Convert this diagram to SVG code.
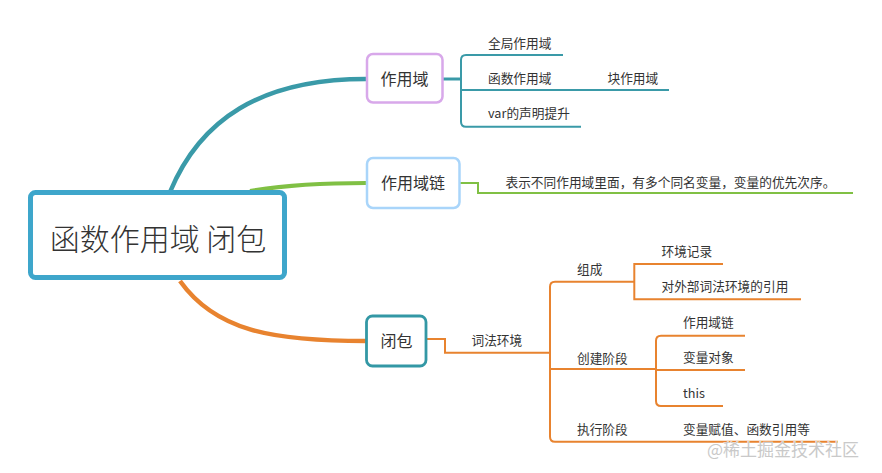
<svg xmlns="http://www.w3.org/2000/svg" width="882" height="473" viewBox="0 0 882 473">
<style>
text{font-family:"Noto Sans CJK SC","Noto Sans",sans-serif;fill:#333;}
.t{font-size:12.7px;}
.n{font-size:16px;text-anchor:middle;}
.teal{stroke:#3a9aa8;fill:none;}
.green{stroke:#80c044;fill:none;}
.orange{stroke:#e8832f;fill:none;}
.thin{stroke-width:2;}
.mid{stroke-width:3;}
</style>
<rect width="882" height="473" fill="#fff"/>
<g id="connectors">
<path class="teal" stroke-width="4.5" d="M170,192 C200,120 260,79 366,79"/>
<path class="green" stroke-width="4" d="M250,191 C280,186 320,183 366,183"/>
<path class="orange" stroke-width="4.5" d="M180,281 C215,330 270,341 366,341"/>
<path class="teal mid" d="M443,79 H461"/>
<path class="teal thin" d="M563,55 H466 Q461,55 461,60 V121.7 Q461,126.7 466,126.7 H581 M461,90 H669"/>
<path class="green thin" d="M460,183 H478 V193 H853"/>
<path class="orange thin" d="M427,339 H445 V352.7 H550"/>
<path class="orange thin" d="M635,281.7 H555 Q550,281.7 550,286.7 V436.7 Q550,441.7 555,441.7 H838 M550,369 H656"/>
<path class="orange thin" d="M723,264 H634.3 V299.3 H801"/>
<path class="orange thin" d="M745,335.7 H661 Q656,335.7 656,340.7 V401 Q656,406 661,406 H723 M656,370 H745"/>
</g>
<g id="root">
<rect x="30.5" y="192.5" width="254" height="85" rx="5" fill="#fff" stroke="#3ea6cb" stroke-width="5"/>
<text x="158" y="250" style="font-size:30px;text-anchor:middle;font-weight:300">函数作用域 闭包</text>
</g>
<g id="scope">
<rect x="367" y="54" width="75.5" height="48.5" rx="6" fill="#fff" stroke="#d8a8ea" stroke-width="2.5"/>
<text class="n" x="404.5" y="84.5">作用域</text>
</g>
<g id="scope-chain">
<rect x="367" y="158" width="92.5" height="50" rx="6" fill="#fff" stroke="#a9d5fa" stroke-width="2.5"/>
<text class="n" x="413" y="189">作用域链</text>
</g>
<g id="closure">
<rect x="366.5" y="316" width="59.5" height="50" rx="6" fill="#fff" stroke="#3398a5" stroke-width="2.8"/>
<text class="n" x="396.5" y="346.5">闭包</text>
</g>
<g id="scope-children">
<text class="t" x="488" y="47.5">全局作用域</text>
<text class="t" x="488" y="82.5">函数作用域</text>
<text class="t" x="607.5" y="82.5">块作用域</text>
<text class="t" x="488" y="117.5">var的声明提升</text>
</g>
<g id="chain-children">
<text class="t" x="505.5" y="186.5">表示不同作用域里面，有多个同名变量，变量的优先次序。</text>
</g>
<g id="closure-children">
<text class="t" x="471.5" y="345">词法环境</text>
<text class="t" x="577" y="273.5">组成</text>
<text class="t" x="577" y="362.5">创建阶段</text>
<text class="t" x="577" y="434">执行阶段</text>
<text class="t" x="661.5" y="255.5">环境记录</text>
<text class="t" x="661.5" y="290.5">对外部词法环境的引用</text>
<text class="t" x="683" y="326.5">作用域链</text>
<text class="t" x="683" y="362">变量对象</text>
<text class="t" x="683" y="397.5">this</text>
<text class="t" x="683" y="434">变量赋值、函数引用等</text>
</g>
<text x="707" y="456" style="font-size:17px;fill:#c9c9c9;stroke:#fff;stroke-width:0.6;paint-order:stroke">@稀土掘金技术社区</text>
</svg>
